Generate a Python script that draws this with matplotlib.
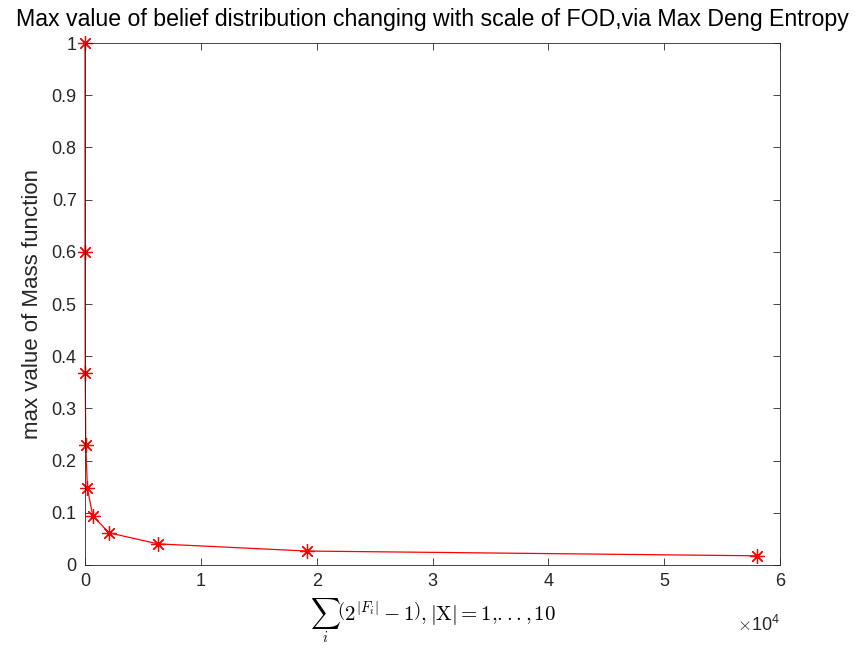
import numpy as np
import matplotlib.pyplot as plt
from matplotlib.ticker import FuncFormatter

plt.rcParams['font.family'] = ['Liberation Sans', 'DejaVu Sans']
plt.rcParams['mathtext.fontset'] = 'cm'

# sum of (2^|F_i| - 1) for |X| = 1..10, and the max mass value
fod_sum = [1, 5, 19, 65, 211, 665, 2059, 6305, 19171, 58025]
max_mass = [1.0, 0.6, 0.3684, 0.2308, 0.1469, 0.0947, 0.0617, 0.0404, 0.0267, 0.0176]

fig = plt.figure(figsize=(8.55, 6.65), dpi=100)
ax = fig.add_axes([0.0994, 0.1504, 0.8129, 0.7849])
ax.plot(fod_sum, max_mass, '-', color='red', linewidth=0.9, clip_on=False)
ax.plot(fod_sum, max_mass, linestyle='none', marker=(8, 2, 0), color='red',
        markersize=10.5, markeredgewidth=0.9, clip_on=False)

ax.set_xlim(0, 60000)
ax.set_ylim(0, 1)
ax.set_xticks(np.arange(0, 60001, 10000))
ax.set_yticks(np.arange(0, 1.01, 0.1))
ax.xaxis.set_major_formatter(FuncFormatter(lambda v, p: '%g' % (v / 1e4)))
ax.yaxis.set_major_formatter(FuncFormatter(lambda v, p: '%g' % round(v, 1)))
ax.tick_params(direction='in', length=5, width=0.6, labelsize=13, colors='#262626',
               top=True, right=True, pad=6)
for s in ax.spines.values():
    s.set_linewidth(0.6)
    s.set_color('#262626')

ax.set_title('Max value of belief distribution changing with scale of FOD,via Max Deng Entropy',
             fontsize=16.7, pad=12)
ax.set_ylabel('max value of Mass function', fontsize=16, color='#262626', labelpad=6)
ax.set_xlabel(r'$\sum_i\left(2^{|F_i|}-1\right), |\mathrm{X}|=1{,}...{,}\,10$', fontsize=15)
ax.text(1.0, -0.115, r'$\times\mathdefault{10^{4}}$', transform=ax.transAxes, ha='right',
        va='center', fontsize=13, color='#262626')

fig.savefig('out.png', dpi=100)
